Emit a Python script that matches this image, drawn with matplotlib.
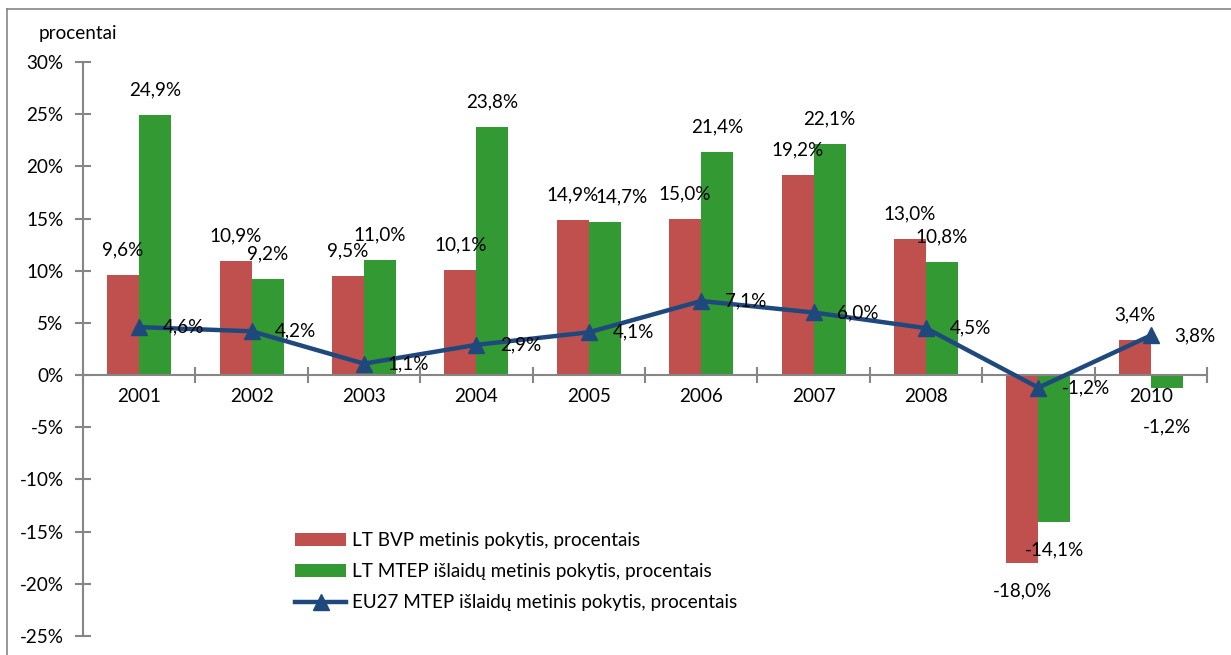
import matplotlib
matplotlib.use("Agg")
import matplotlib.pyplot as plt
from matplotlib.lines import Line2D
import numpy as np

# duomenys (perskaityti nuo paveikslo)
years = ["2001", "2002", "2003", "2004", "2005", "2006", "2007", "2008", "2009", "2010"]
lt_bvp = [9.6, 10.9, 9.5, 10.1, 14.9, 15.0, 19.2, 13.0, -18.0, 3.4]
lt_mtep = [24.9, 9.2, 11.0, 23.8, 14.7, 21.4, 22.1, 10.8, -14.1, -1.2]
eu27_mtep = [4.6, 4.2, 1.1, 2.9, 4.1, 7.1, 6.0, 4.5, -1.2, 3.8]

labels = ["LT BVP metinis pokytis, procentais",
          "LT MTEP išlaidų metinis pokytis, procentais",
          "EU27 MTEP išlaidų metinis pokytis, procentais"]

RED = "#C0504D"
GREEN = "#339933"
BLUE = "#1F497D"
GRAY = "#868686"

plt.rcParams["font.family"] = ["Lato", "DejaVu Sans"]
FS = 13.6


def fmt(v):
    return f"{v:.1f}%".replace(".", ",")


fig = plt.figure(figsize=(12.31, 6.55), dpi=100)
ax = fig.add_axes([0.0674, 0.029, 0.9131, 0.8763])

x = np.arange(len(years))
w = 0.285
bars1 = ax.bar(x - w / 2, lt_bvp, w, color=RED, label=labels[0], zorder=2)
bars2 = ax.bar(x + w / 2, lt_mtep, w, color=GREEN, label=labels[1], zorder=2)
line, = ax.plot(x, eu27_mtep, color=BLUE, lw=3.2, marker="^", ms=11,
                label=labels[2], zorder=3)

ax.set_xlim(-0.5, len(years) - 0.5)
ax.set_ylim(-25, 30)
ax.set_yticks(np.arange(-25, 31, 5))
ax.set_yticklabels([f"{t}%" for t in range(-25, 31, 5)], fontsize=FS)

# x asis per nuli
for s in ["top", "right"]:
    ax.spines[s].set_visible(False)
ax.spines["bottom"].set_position(("data", 0))
ax.spines["bottom"].set_color(GRAY)
ax.spines["bottom"].set_linewidth(1.5)
ax.spines["left"].set_color(GRAY)
ax.spines["left"].set_linewidth(1.5)
ax.set_xticks(x)
ax.set_xticklabels(years, fontsize=FS)
ax.set_xticks(np.arange(-0.5, len(years)), minor=True)
ax.tick_params(axis="x", which="major", length=0, pad=9)
ax.tick_params(axis="x", which="minor", direction="inout", length=12,
               color=GRAY, width=1.5)
ax.tick_params(axis="y", direction="inout", length=12, color=GRAY, width=1.5,
               pad=8)

# reiksmiu etiketes
for b, v in zip(bars1, lt_bvp):
    off = 12 if v >= 0 else -14
    ax.annotate(fmt(v), (b.get_x() + b.get_width() / 2, v), xytext=(0, off),
                textcoords="offset points", ha="center",
                va="bottom" if v >= 0 else "top", fontsize=FS)
for b, v, r in zip(bars2, lt_mtep, lt_bvp):
    off = 12 if v >= 0 else -14
    dx = 0
    if v > 0 and abs(v - r) < 1.5:
        dx = 12  # kai etiketes beveik sutampa - pastumti i desine
    if -3 < v < 0:
        off = -22  # maza neigiama reiksme - po metu etikete
    ax.annotate(fmt(v), (b.get_x() + b.get_width() / 2, v), xytext=(dx, off),
                textcoords="offset points", ha="center",
                va="bottom" if v >= 0 else "top", fontsize=FS)
for xi, v in zip(x, eu27_mtep):
    ax.annotate(fmt(v), (xi, v), xytext=(17, 0), textcoords="offset points",
                ha="left", va="center", fontsize=FS)

fig.text(0.031, 0.949, "procentai", fontsize=FS, va="center")

ax.legend([bars1, bars2, line], labels, loc="upper left",
          bbox_to_anchor=(0.226, 0.214), bbox_transform=fig.transFigure,
          frameon=False, fontsize=FS, handlelength=2.7, handletextpad=0.3,
          labelspacing=0.75)

# remelis
fig.add_artist(Line2D([0.0057, 1.0], [0.986, 0.986], color=GRAY, lw=1.2,
                      transform=fig.transFigure))
fig.add_artist(Line2D([0.0057, 0.0057], [0.0, 0.986], color=GRAY, lw=1.2,
                      transform=fig.transFigure))

fig.savefig("out.png", dpi=100)
